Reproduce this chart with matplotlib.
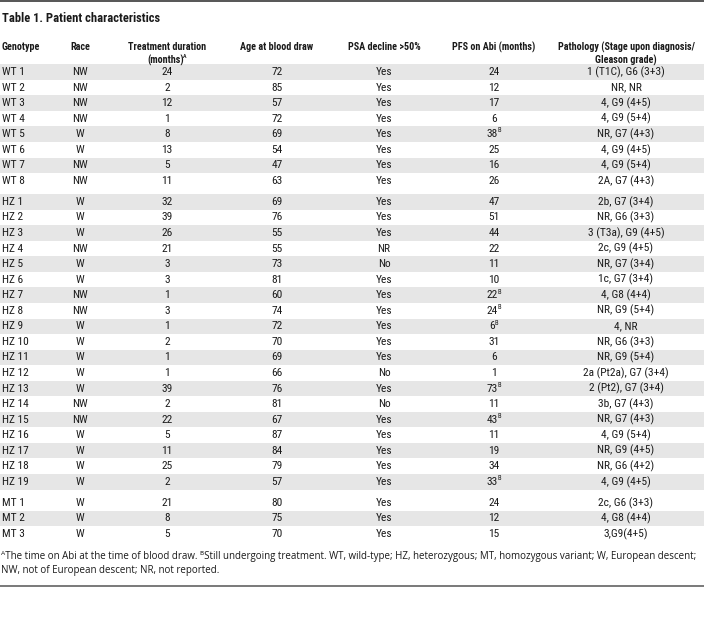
import os
import matplotlib
matplotlib.use("Agg")
import matplotlib.pyplot as plt
import matplotlib.font_manager as fm
from matplotlib.patches import Rectangle

# ---- table data ----
genotype = ["WT 1", "WT 2", "WT 3", "WT 4", "WT 5", "WT 6", "WT 7", "WT 8",
            "HZ 1", "HZ 2", "HZ 3", "HZ 4", "HZ 5", "HZ 6", "HZ 7", "HZ 8", "HZ 9", "HZ 10",
            "HZ 11", "HZ 12", "HZ 13", "HZ 14", "HZ 15", "HZ 16", "HZ 17", "HZ 18", "HZ 19",
            "MT 1", "MT 2", "MT 3"]
group = [0] * 8 + [1] * 19 + [2] * 3
race = ["NW", "NW", "NW", "NW", "W", "W", "NW", "NW",
        "W", "W", "W", "NW", "W", "W", "NW", "NW", "W", "W",
        "W", "W", "W", "NW", "NW", "W", "W", "W", "W",
        "W", "W", "W"]
treatment = ["24", "2", "12", "1", "8", "13", "5", "11",
             "32", "39", "26", "21", "3", "3", "1", "3", "1", "2",
             "1", "1", "39", "2", "22", "5", "11", "25", "2",
             "21", "8", "5"]
age = ["72", "85", "57", "72", "69", "54", "47", "63",
       "69", "76", "55", "55", "73", "81", "60", "74", "72", "70",
       "69", "66", "76", "81", "67", "87", "84", "79", "57",
       "80", "75", "70"]
psa = ["Yes"] * 8 + \
      ["Yes", "Yes", "Yes", "NR", "No", "Yes", "Yes", "Yes", "Yes", "Yes",
       "Yes", "No", "Yes", "No", "Yes", "Yes", "Yes", "Yes", "Yes"] + \
      ["Yes"] * 3
pfs = ["24", "12", "17", "6", "38ᴮ", "25", "16", "26",
       "47", "51", "44", "22", "11", "10", "22ᴮ", "24ᴮ", "6ᴮ", "31",
       "6", "1", "73ᴮ", "11", "43ᴮ", "11", "19", "34", "33ᴮ",
       "24", "12", "15"]
pathology = ["1 (T1C), G6 (3+3)", "NR, NR", "4, G9 (4+5)", "4, G9 (5+4)", "NR, G7 (4+3)",
             "4, G9 (4+5)", "4, G9 (5+4)", "2A, G7 (4+3)",
             "2b, G7 (3+4)", "NR, G6 (3+3)", "3 (T3a), G9 (4+5)", "2c, G9 (4+5)", "NR, G7 (3+4)",
             "1c, G7 (3+4)", "4, G8 (4+4)", "NR, G9 (5+4)", "4, NR", "NR, G6 (3+3)",
             "NR, G9 (5+4)", "2a (Pt2a), G7 (3+4)", "2 (Pt2), G7 (3+4)", "3b, G7 (4+3)",
             "NR, G7 (4+3)", "4, G9 (5+4)", "NR, G9 (4+5)", "NR, G6 (4+2)", "4, G9 (4+5)",
             "2c, G6 (3+3)", "4, G8 (4+4)", "3,G9(4+5)"]

headers = [("Genotype", ""), ("Race", ""), ("Treatment duration", "(months)ᴬ"),
           ("Age at blood draw", ""), ("PSA decline >50%", ""), ("PFS on Abi (months)", ""),
           ("Pathology (Stage upon diagnosis/", "Gleason grade)")]
columns = [genotype, race, treatment, age, psa, pfs, pathology]

title = "Table 1. Patient characteristics"
foot1 = ("ᴬThe time on Abi at the time of blood draw. ᴮStill undergoing treatment. "
         "WT, wild-type; HZ, heterozygous; MT, homozygous variant; W, European descent;")
foot2 = "NW, not of European descent; NR, not reported."


# ---- pick a condensed sans if one is installed ----
def find_condensed(target_weight):
    prefixes = ["robotocondensed", "liberationsansnarrow", "notosanscondensed",
                "opensanscondensed", "dejavusanscondensed"]
    best = None
    for f in fm.fontManager.ttflist:
        if f.style != "normal":
            continue
        base = os.path.basename(f.fname).lower().replace("-", "").replace("_", "").replace(" ", "")
        for rank, pre in enumerate(prefixes):
            if base.startswith(pre) and "[" not in base:
                w = f.weight if isinstance(f.weight, int) else fm.weight_dict.get(f.weight, 400)
                score = rank * 1000 + abs(w - target_weight)
                if best is None or score < best[0]:
                    best = (score, f.fname)
    return best[1] if best else None


def props(weight):
    path = find_condensed(weight)
    if path:
        return dict(fontproperties=fm.FontProperties(fname=path))
    return dict(family="Liberation Sans", fontweight="bold" if weight > 500 else "normal")


fp_body = props(400)
fp_head = props(600)
fp_title = props(700)
fp_foot = dict(family=["Open Sans", "DejaVu Sans"])

txt = "#1a1a1a"
fig = plt.figure(figsize=(7.04, 6.33), dpi=100)
ax = fig.add_axes([0, 0, 1, 1])
ax.set_xlim(0, 704)
ax.set_ylim(633, 0)
ax.axis("off")
renderer = fig.canvas.get_renderer()


def width_px(s, fp, size):
    t = ax.text(0, 0, s, fontsize=size, **fp)
    w = t.get_window_extent(renderer).width
    t.remove()
    return w


def fit_size(s, fp, target_px, lo, hi):
    return max(lo, min(hi, 10 * target_px / width_px(s, fp, 10)))


s_title = fit_size(title, fp_title, 158, 7, 11)
s_head = fit_size("Pathology (Stage upon diagnosis/", fp_head, 138, 6.5, 9.5)
s_body = fit_size("2a (Pt2a), G7 (3+4)", fp_body, 77, 6.5, 9.5) * 1.1
s_foot = fit_size(foot1, fp_foot, 697, 6, 8)


def put(x, y, s, fp, size, ha):
    # text with a trailing superscript letter (ᴬ/ᴮ) set smaller and raised
    sup = None
    if s.endswith("ᴬ") or s.endswith("ᴮ"):
        sup = "A" if s.endswith("ᴬ") else "B"
        s = s[:-1]
    if sup is None:
        ax.text(x, y, s, fontsize=size, color=txt, va="center", ha=ha, **fp)
        return
    ssz = size * 0.58
    wb = width_px(s, fp, size)
    ws = width_px(sup, fp, ssz)
    left = x - (wb + ws - 0.6) / 2 if ha == "center" else x
    ax.text(left, y, s, fontsize=size, color=txt, va="center", ha="left", **fp)
    ax.text(left + wb - 0.6, y - 3.2, sup, fontsize=ssz, color=txt, va="center", ha="left", **fp)


# ---- layout ----
col_x = [2, 80, 167, 277, 384, 494, 626]
col_ha = ["left"] + ["center"] * 6
row0, row_h, gap = 72, 15.55, 5.5

ax.axhline(0.8, color="#555555", lw=1.4)
ax.axhline(586, color="#555555", lw=1.1)

ax.text(2, 18, title, fontsize=s_title, color=txt, va="center", ha="left", **fp_title)

for x, ha, (h1, h2) in zip(col_x, col_ha, headers):
    put(x, 47, h1, fp_head, s_head, ha)
    if h2:
        put(x, 60, h2, fp_head, s_head, ha)

for i in range(len(genotype)):
    y = row0 + row_h * i + gap * group[i]
    if i % 2 == 0:
        ax.add_patch(Rectangle((0, y - row_h / 2), 704, row_h,
                               facecolor="#e6e6e6", edgecolor="none"))
    for x, ha, col in zip(col_x, col_ha, columns):
        put(x, y, col[i], fp_body, s_body, ha)

ax.text(1, 556, foot1, fontsize=s_foot, color=txt, va="center", ha="left", **fp_foot)
ax.text(1, 571, foot2, fontsize=s_foot, color=txt, va="center", ha="left", **fp_foot)

fig.savefig("out.png", dpi=100)
